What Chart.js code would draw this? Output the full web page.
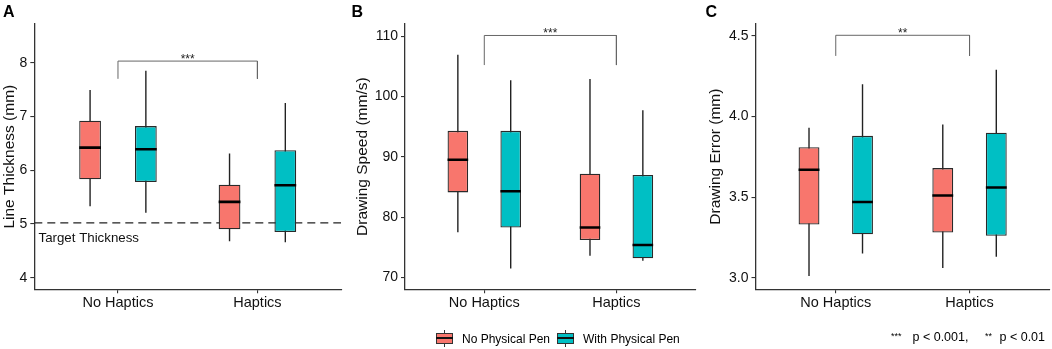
<!DOCTYPE html>
<html>
<head>
<meta charset="utf-8">
<script src="https://cdn.jsdelivr.net/npm/chart.js@4.4.0/dist/chart.umd.min.js"></script>
<style>
  html, body { margin:0; padding:0; background:#fff; }
  body { width:1052px; height:349px; position:relative; overflow:hidden;
         font-family:"Liberation Sans", Arial, Helvetica, sans-serif; color:#000; }
  canvas { position:absolute; top:0; }
  .letter { position:absolute; top:4px; font-weight:bold; font-size:16px; line-height:16px; }
  .legend { position:absolute; left:436px; top:330px; height:17px; display:flex; align-items:center; font-size:12px; white-space:nowrap; }
  .key { position:relative; width:17px; height:17px; margin-right:9px; }
  .key .w { position:absolute; left:8px; width:1.3px; background:#333; }
  .key .b { position:absolute; left:0; top:2.6px; width:15px; height:9px; border:1.2px solid #333; }
  .key .m { position:absolute; left:0; top:7.2px; width:17px; height:2px; background:#111; }
  .foot { position:absolute; top:329px; font-size:12.5px; white-space:pre; line-height:16px; }
  .foot.s { font-size:9px; top:328px; }
</style>
</head>
<body>
<canvas id="cA" width="350" height="349" style="left:0px"></canvas>
<canvas id="cB" width="350" height="349" style="left:350px"></canvas>
<canvas id="cC" width="352" height="349" style="left:700px"></canvas>
<div class="letter" style="left:3px">A</div>
<div class="letter" style="left:351.5px">B</div>
<div class="letter" style="left:705.5px">C</div>
<div class="legend" id="legend"></div>
<div class="foot s" style="left:891px">***</div>
<div class="foot" style="left:912.5px">p &lt; 0.001,</div>
<div class="foot s" style="left:985px">**</div>
<div class="foot" style="left:999.5px">p &lt; 0.01</div>
<script>
// ---------------- data ----------------
const categories = ['No Haptics', 'Haptics'];
const groups = ['No Physical Pen', 'With Physical Pen'];
// box order: [No Haptics / No Pen, No Haptics / With Pen, Haptics / No Pen, Haptics / With Pen]
const thickMin = [5.33, 5.21, 4.68, 4.66];
const thickQ1  = [5.83, 5.78, 4.90, 4.85];
const thickMed = [6.42, 6.39, 5.41, 5.72];
const thickQ3  = [6.92, 6.82, 5.73, 6.37];
const thickMax = [7.49, 7.85, 6.31, 7.25];

const speedMin = [77.5, 71.5, 73.6, 72.8];
const speedQ1  = [84.1, 78.3, 76.2, 73.2];
const speedMed = [89.5, 84.3, 78.3, 75.4];
const speedQ3  = [94.3, 94.3, 87.2, 87.0];
const speedMax = [106.9, 102.7, 102.9, 97.7];

const errMin = [3.01, 3.15, 3.06, 3.13];
const errQ1  = [3.33, 3.27, 3.28, 3.26];
const errMed = [3.67, 3.47, 3.51, 3.56];
const errQ3  = [3.81, 3.88, 3.68, 3.90];
const errMax = [3.93, 4.20, 3.95, 4.29];

const thickTicks = [4, 5, 6, 7, 8];
const speedTicks = [70, 80, 90, 100, 110];
const errTicks   = [3.0, 3.5, 4.0, 4.5];

const targetThickness = 5.02;
const sigLabels   = ['***', '***', '**'];
const bracketTop  = [8.03, 110.1, 4.504];
const bracketEnd  = [7.70, 105.2, 4.376];

// ---------------- style ----------------
const FONT = '"Liberation Sans", Arial, Helvetica, sans-serif';
const COLORS = ['#F8766D', '#00BFC4'];
const AXIS = '#333333';

const annot = {
  id: 'annot',
  afterDatasetsDraw(chart, args, opts) {
    const { ctx } = chart;
    const x = chart.scales.x, y = chart.scales.y;
    ctx.save();
    (opts.texts || []).forEach(t => {
      ctx.font = t.font;
      ctx.fillStyle = t.color || '#000';
      ctx.textAlign = t.align;
      ctx.textBaseline = t.baseline;
      ctx.fillText(t.text, x.getPixelForValue(t.x), y.getPixelForValue(t.y) + (t.dy || 0));
    });
    ctx.restore();
  }
};

function makePanel(id, p) {
  const n = categories.length;
  const xs = [];
  for (let c = 0; c < n; c++) for (let g = 0; g < groups.length; g++) xs.push(c + 1 + (g - 0.5) * 0.4);
  const half = 0.078;
  const whisk = [], meds = [];
  xs.forEach((x, i) => {
    whisk.push({ x, y: p.mn[i] }, { x, y: p.mx[i] }, { x, y: null });
    meds.push({ x: x - half, y: p.md[i] }, { x: x + half, y: p.md[i] }, { x, y: null });
  });
  const boxColors = xs.map((x, i) => COLORS[i % groups.length]);
  const datasets = [
    { type: 'line', data: whisk, borderColor: '#222', borderWidth: 1.4, pointRadius: 0, spanGaps: false, fill: false, order: 5 },
    { type: 'bar', data: xs.map((x, i) => ({ x, y: [p.q1[i], p.q3[i]] })), backgroundColor: boxColors,
      borderColor: '#2a2a2a', borderWidth: 1.3, borderSkipped: false, categoryPercentage: 1, barPercentage: 0.39, order: 3 },
    { type: 'line', data: meds, borderColor: '#000', borderWidth: 2.6, pointRadius: 0, spanGaps: false, fill: false, borderCapStyle: 'butt', order: 1 },
    { type: 'line', data: [{ x: 1, y: p.bEnd }, { x: 1, y: p.bTop }, { x: 2, y: p.bTop }, { x: 2, y: p.bEnd }],
      borderColor: '#666', borderWidth: 1, pointRadius: 0, fill: false, order: 6 }
  ];
  const texts = [{ text: p.sig, x: 1.5, y: p.bTop, dy: 2, font: '12px ' + FONT, align: 'center', baseline: 'alphabetic', color: '#222' }];
  if (p.target !== undefined) {
    datasets.push({ type: 'line', data: [{ x: 0.4, y: p.target }, { x: 2.6, y: p.target }],
      borderColor: '#222', borderWidth: 1.4, borderDash: [8, 5], pointRadius: 0, fill: false, order: 4 });
    texts.push({ text: 'Target Thickness', x: 0.43, y: 4.724, font: '13.3px ' + FONT, align: 'left', baseline: 'middle', color: '#111' });
  }
  return new Chart(document.getElementById(id), {
    type: 'bar',
    data: { datasets },
    plugins: [annot],
    options: {
      responsive: false, animation: false, events: [],
      layout: { padding: { top: 24, right: p.padRight, left: 0, bottom: 0 } },
      plugins: { legend: { display: false }, tooltip: { enabled: false }, annot: { texts } },
      scales: {
        x: {
          type: 'linear', min: 0.4, max: 2.6, offset: false,
          grid: { display: true, drawOnChartArea: false, drawTicks: true, tickLength: 4, color: AXIS, lineWidth: 1.1, offset: false },
          border: { display: true, color: AXIS, width: 1.3 },
          ticks: { font: { family: FONT, size: 14.5 }, color: '#111', padding: 1, maxRotation: 0,
                   callback: v => categories[Math.round(v) - 1] },
          afterBuildTicks: s => { s.ticks = categories.map((c, i) => ({ value: i + 1 })); },
          afterFit: s => { s.height = 59.7; }
        },
        y: {
          type: 'linear', min: p.ymin, max: p.ymax,
          grid: { display: true, drawOnChartArea: false, drawTicks: true, tickLength: 4, color: AXIS, lineWidth: 1.1 },
          border: { display: true, color: AXIS, width: 1.3 },
          ticks: { font: { family: FONT, size: 14 }, color: '#111', padding: 3,
                   callback: v => p.fmt(v) },
          afterBuildTicks: s => { s.ticks = p.ticks.map(v => ({ value: v })); },
          afterFit: s => { s.width = p.axisW; },
          title: { display: true, text: p.title, font: { family: FONT, size: 15.5, lineHeight: 1.2 }, color: '#111',
                   padding: { top: p.titlePad, bottom: 0 } }
        }
      }
    }
  });
}

makePanel('cA', { mn: thickMin, q1: thickQ1, md: thickMed, q3: thickQ3, mx: thickMax,
  ticks: thickTicks, fmt: v => String(v), ymin: 3.784, ymax: 8.72, axisW: 34.3, padRight: 8.9,
  title: 'Line Thickness (mm)', titlePad: 0, sig: sigLabels[0], bTop: bracketTop[0], bEnd: bracketEnd[0], target: targetThickness });
makePanel('cB', { mn: speedMin, q1: speedQ1, md: speedMed, q3: speedQ3, mx: speedMax,
  ticks: speedTicks, fmt: v => String(v), ymin: 68.05, ymax: 112.0, axisW: 55, padRight: 4.3,
  title: 'Drawing Speed (mm/s)', titlePad: 3.5, sig: sigLabels[1], bTop: bracketTop[1], bEnd: bracketEnd[1] });
makePanel('cC', { mn: errMin, q1: errQ1, md: errMed, q3: errQ3, mx: errMax,
  ticks: errTicks, fmt: v => v.toFixed(1), ymin: 2.928, ymax: 4.574, axisW: 55.5, padRight: 2.2,
  title: 'Drawing Error (mm)', titlePad: 6.5, sig: sigLabels[2], bTop: bracketTop[2], bEnd: bracketEnd[2] });

// legend
const leg = document.getElementById('legend');
groups.forEach((g, i) => {
  const key = document.createElement('div');
  key.className = 'key';
  key.style.marginLeft = i === 0 ? '0px' : '7px';
  key.innerHTML = '<div class="w" style="top:0;height:3px"></div><div class="w" style="top:13px;height:4px"></div>' +
    '<div class="b" style="background:' + COLORS[i] + '"></div><div class="m"></div>';
  const lab = document.createElement('span');
  lab.textContent = g;
  leg.appendChild(key); leg.appendChild(lab);
});
</script>
</body>
</html>
